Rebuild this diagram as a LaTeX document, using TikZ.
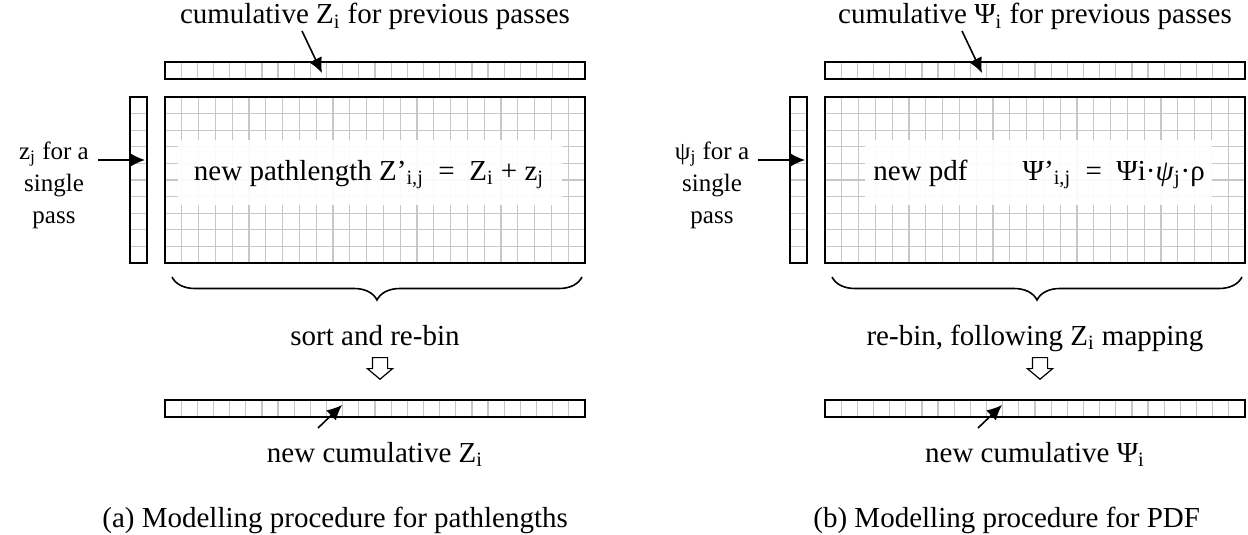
\documentclass[tikz,border=0pt]{standalone}
\usepackage{fontspec}
\setmainfont{Liberation Serif}
\usetikzlibrary{arrows.meta,positioning,calc,shapes.arrows,decorations.pathreplacing}

\begin{document}
\begin{tikzpicture}[
  x=0.5pt, y=-0.5pt,
  box/.style={rectangle, inner sep=0pt, outer sep=0pt},
  frame/.style={draw=black, line width=1pt},
  cell/.style={draw=black!22, line width=0.6pt},
  cover/.style={fill=white, fill opacity=0.92},
  arr/.style={-{Latex[length=7.5pt,width=7pt]}, line width=0.8pt},
  hollow/.style={single arrow, draw, fill=white, shape border rotate=270, minimum height=10.5pt,
    inner sep=3.5pt, single arrow head extend=2.5pt, single arrow tip angle=100, line width=0.6pt},
  brc/.style={decorate, decoration={brace, mirror, amplitude=11.5pt}, line width=0.8pt},
  txt/.style={font=\fontsize{14.5}{17}\selectfont, inner sep=0pt},
  side/.style={font=\fontsize{12.5}{16}\selectfont, inner sep=0pt, align=center}
]
  \useasboundingbox (0,0) rectangle (1248,535);

  % bars and grids of both panels
  \foreach \p/\ox in {a/0,b/660} {
    \node[box, minimum width=210pt, minimum height=8.5pt] (top\p) at (375+\ox,70.5) {};
    \node[box, minimum width=210pt, minimum height=83pt] (grid\p) at (375+\ox,180) {};
    \node[box, minimum width=8.5pt, minimum height=83pt] (col\p) at (138.5+\ox,180) {};
    \node[box, minimum width=210pt, minimum height=8.5pt] (bot\p) at (375+\ox,408.5) {};
    \foreach \k in {1,...,25} {
      \draw[cell] ($(top\p.north west)!\k/26!(top\p.north east)$) -- ($(top\p.south west)!\k/26!(top\p.south east)$);
      \draw[cell] ($(bot\p.north west)!\k/26!(bot\p.north east)$) -- ($(bot\p.south west)!\k/26!(bot\p.south east)$);
    }
    \foreach \k in {1,...,24}
      \draw[cell] ($(grid\p.north west)!\k/25!(grid\p.north east)$) -- ($(grid\p.south west)!\k/25!(grid\p.south east)$);
    \foreach \k in {1,...,9} {
      \draw[cell] ($(grid\p.north west)!\k/10!(grid\p.south west)$) -- ($(grid\p.north east)!\k/10!(grid\p.south east)$);
      \draw[cell] ($(col\p.north west)!\k/10!(col\p.south west)$) -- ($(col\p.north east)!\k/10!(col\p.south east)$);
    }
  }

  % white boxes behind the formulas
  \fill[cover] (178,140) rectangle (562,205);
  \fill[cover] (865,140) rectangle (1212,205);

  % outlines and braces
  \foreach \p in {a,b} {
    \foreach \n in {top,grid,col,bot}
      \draw[frame] (\n\p.south west) rectangle (\n\p.north east);
    \draw[brc] ($(grid\p.south west)+(7,14)$) -- ($(grid\p.south east)+(-3,14)$);
  }

  % panel (a)
  \node[txt, anchor=base] (cuma) at (375,24) {cumulative Z\textsubscript{i} for previous passes};
  \node[side] (zja) at (54,185) {z\textsubscript{j} for a\\single\\pass};
  \node[txt, anchor=base] (fma) at (369,180) {new pathlength Z’\textsubscript{i,j}~~=~~Z\textsubscript{i} + z\textsubscript{j}};
  \node[txt, anchor=base] (sorta) at (375,345) {sort and re-bin};
  \node[hollow, anchor=tip] (dna) at (380,380) {};
  \node[txt, anchor=base] (newa) at (375,462) {new cumulative Z\textsubscript{i}};
  \node[txt, anchor=base west] (capa) at (102,527) {(a) Modelling procedure for pathlengths};

  \coordinate (ta1) at (302,31);  \coordinate (ta2) at (322,73);
  \coordinate (sa1) at (98,160);  \coordinate (sa2) at (145,160);
  \coordinate (ba1) at (318,428); \coordinate (ba2) at (342,405);
  \draw[arr] (ta1) -- (ta2);
  \draw[arr] (sa1) -- (sa2);
  \draw[arr] (ba1) -- (ba2);

  % panel (b)
  \node[txt, anchor=base] (cumb) at (1035,24) {cumulative Ψ\textsubscript{i} for previous passes};
  \node[side] (psb) at (712,185) {ψ\textsubscript{j} for a\\single\\pass};
  \node[txt, anchor=base west] (pdfb) at (873,180) {new pdf\hspace*{1.9em}Ψ’\textsubscript{i,j}~~=~~Ψi·\textit{ψ}\textsubscript{j}·ρ};
  \node[txt, anchor=base] (rebb) at (1035,345) {re-bin, following Z\textsubscript{i} mapping};
  \node[hollow, anchor=tip] (dnb) at (1040,380) {};
  \node[txt, anchor=base] (newb) at (1035,462) {new cumulative Ψ\textsubscript{i}};
  \node[txt, anchor=base west] (capb) at (813,527) {(b) Modelling procedure for PDF};

  \coordinate (tb1) at (962,31);  \coordinate (tb2) at (982,73);
  \coordinate (sb1) at (758,160); \coordinate (sb2) at (805,160);
  \coordinate (bb1) at (978,428); \coordinate (bb2) at (1002,405);
  \draw[arr] (tb1) -- (tb2);
  \draw[arr] (sb1) -- (sb2);
  \draw[arr] (bb1) -- (bb2);
\end{tikzpicture}
\end{document}
